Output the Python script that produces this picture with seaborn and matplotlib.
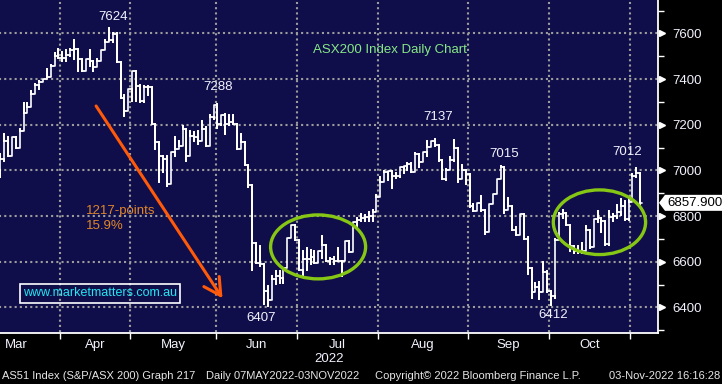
import matplotlib
matplotlib.use("Agg")
import matplotlib.pyplot as plt
import matplotlib.transforms as mtransforms
from matplotlib.patches import Ellipse, Polygon
import seaborn as sns
import pandas as pd

# ---- data (ASX200 daily bars, trading-day index 0 = first bar shown) ----
months = ["Mar", "Apr", "May", "Jun", "Jul", "Aug", "Sep", "Oct"]
month_start = [-7, 16, 34, 56, 77, 98, 121, 142, 163]   # first trading-day index of each month

opens = [
    7000, 7050, 7130, 7062, 7148, 7097, 7172, 7251, 7276, 7334, 7373, 7385, 7399, 7411, 7455, 7500,
    7494, 7493, 7504, 7526, 7533, 7489, 7437, 7489, 7481, 7452, 7481, 7526, 7563, 7570, 7596, 7474, 7319, 7259,
    7355, 7437, 7370, 7305, 7366, 7364, 7203, 7123, 7064, 7050, 6940, 7079, 7093, 7108, 7181, 7064, 7152, 7145, 7130, 7181, 7108, 7235,
    7286, 7205, 7242, 7205, 7210, 7205, 7095, 7125, 7022, 6934, 6682, 6595, 6588, 6472, 6432, 6523, 6537, 6530, 6573, 6703, 6761,
    6696, 6566, 6610, 6610, 6620, 6595, 6646, 6674, 6602, 6610, 6605, 6602, 6602, 6689, 6643, 6773, 6783, 6790, 6795, 6800, 6819,
    6884, 6947, 6991, 6999, 6977, 6977, 7013, 7020, 7028, 6991, 7072, 7035, 7079, 7104, 7130, 7112, 7045, 6963, 7000, 7044, 7100, 6963, 7000,
    6985, 6846, 6824, 6857, 6827, 6729, 6851, 6895, 6963, 7015, 6827, 6846, 6740, 6719, 6807, 6700, 6573, 6466, 6491, 6466, 6554,
    6473, 6451, 6697, 6808, 6815, 6760, 6667, 6645, 6645, 6645, 6740, 6663, 6785, 6793, 6777, 6676, 6798, 6799, 6818, 6845, 6785,
    6863, 6976, 6988,
]
highs = [
    7072, 7159, 7145, 7148, 7148, 7181, 7297, 7294, 7348, 7377, 7392, 7402, 7443, 7460, 7516, 7530,
    7519, 7526, 7533, 7573, 7533, 7489, 7489, 7526, 7481, 7489, 7526, 7570, 7624, 7600, 7600, 7474, 7330, 7355,
    7437, 7437, 7372, 7371, 7368, 7364, 7203, 7123, 7064, 7064, 7079, 7145, 7130, 7196, 7181, 7174, 7166, 7174, 7218, 7188, 7242, 7288,
    7290, 7242, 7245, 7242, 7242, 7205, 7158, 7125, 7022, 6934, 6682, 6667, 6588, 6494, 6537, 6559, 6559, 6573, 6703, 6761, 6761,
    6696, 6646, 6660, 6653, 6646, 6646, 6711, 6674, 6617, 6620, 6660, 6602, 6689, 6689, 6773, 6790, 6807, 6804, 6819, 6826, 6893,
    6972, 6999, 6999, 6999, 6990, 7013, 7020, 7031, 7031, 7074, 7072, 7079, 7130, 7130, 7137, 7112, 7045, 7005, 7059, 7132, 7100, 7022, 7000,
    6985, 6854, 6857, 6890, 6827, 6851, 6898, 6963, 7018, 7015, 6880, 6846, 6751, 6810, 6807, 6707, 6573, 6505, 6510, 6598, 6561,
    6473, 6700, 6815, 6825, 6815, 6760, 6667, 6667, 6682, 6756, 6740, 6785, 6822, 6793, 6777, 6822, 6808, 6849, 6874, 6867, 6880,
    6985, 7012, 6988,
]
lows = [
    6970, 7043, 7062, 7065, 7097, 7097, 7172, 7251, 7276, 7334, 7356, 7385, 7399, 7411, 7455, 7494,
    7481, 7481, 7500, 7489, 7437, 7437, 7437, 7459, 7437, 7452, 7481, 7526, 7560, 7563, 7474, 7319, 7237, 7259,
    7304, 7305, 7301, 7301, 7330, 7203, 7093, 6947, 6991, 6933, 6940, 7064, 7093, 7108, 7042, 7064, 7130, 7115, 7130, 7108, 7108, 7225,
    7185, 7200, 7158, 7200, 7205, 7095, 7095, 7022, 6927, 6566, 6595, 6580, 6414, 6407, 6432, 6501, 6508, 6508, 6573, 6703, 6696,
    6566, 6537, 6566, 6588, 6595, 6595, 6617, 6602, 6588, 6588, 6602, 6537, 6602, 6643, 6643, 6754, 6778, 6778, 6778, 6778, 6819,
    6884, 6947, 6960, 6925, 6968, 6972, 6990, 7000, 6991, 6991, 7016, 7035, 7064, 7104, 7108, 7042, 6962, 6960, 7000, 7040, 6949, 6963, 6941,
    6839, 6824, 6824, 6824, 6722, 6729, 6851, 6895, 6963, 6813, 6827, 6740, 6719, 6719, 6700, 6546, 6441, 6466, 6437, 6466, 6466,
    6412, 6440, 6697, 6793, 6760, 6648, 6640, 6637, 6640, 6645, 6660, 6663, 6775, 6731, 6674, 6674, 6778, 6793, 6805, 6781, 6781,
    6860, 6970, 6855,
]
closes = [
    7050, 7130, 7062, 7148, 7097, 7172, 7251, 7276, 7334, 7373, 7385, 7399, 7411, 7455, 7500, 7494,
    7493, 7504, 7526, 7533, 7489, 7437, 7489, 7481, 7452, 7481, 7526, 7563, 7570, 7596, 7474, 7319, 7259, 7355,
    7437, 7370, 7305, 7366, 7364, 7203, 7123, 7064, 7050, 6940, 7079, 7093, 7108, 7181, 7064, 7152, 7145, 7130, 7181, 7108, 7235, 7286,
    7205, 7242, 7205, 7210, 7205, 7095, 7125, 7022, 6934, 6682, 6595, 6588, 6472, 6432, 6523, 6537, 6530, 6573, 6703, 6761, 6696,
    6566, 6610, 6610, 6620, 6595, 6646, 6674, 6602, 6610, 6605, 6602, 6602, 6689, 6643, 6773, 6783, 6790, 6795, 6800, 6819, 6884,
    6947, 6991, 6999, 6977, 6977, 7013, 7020, 7028, 6991, 7072, 7035, 7079, 7104, 7130, 7112, 7045, 6963, 7000, 7044, 7100, 6963, 7000, 6985,
    6846, 6824, 6857, 6827, 6729, 6851, 6895, 6963, 7015, 6827, 6846, 6740, 6719, 6807, 6700, 6573, 6466, 6491, 6466, 6554, 6473,
    6451, 6697, 6808, 6815, 6760, 6667, 6645, 6645, 6645, 6740, 6663, 6785, 6793, 6777, 6676, 6798, 6799, 6818, 6845, 6785, 6863,
    6976, 6988, 6857.9,
]
last_price = 6857.9

# labelled turning points: (text, day index, price where the label sits)
peak_labels = [("7624", 29.0, 7671), ("7288", 56.1, 7365), ("7137", 112.8, 7233),
               ("7015", 129.9, 7072), ("7012", 161.6, 7079), ("6407", 67.2, 6353),
               ("6412", 142.7, 6367)]

# ---- OHLC bars as one path per day: open tick, high-low stem, close tick ----
rows = []
for d, (o, h, l, c) in enumerate(zip(opens, highs, lows, closes)):
    for x, y in [(d - 0.5, o), (d, o), (d, l), (d, h), (d, c), (d + 0.5, c)]:
        rows.append((d, x, y))
bars = pd.DataFrame(rows, columns=["day", "x", "price"])

sns.set_theme(style="dark")
plt.rcParams["font.family"] = ["Liberation Sans", "DejaVu Sans"]

NAVY = "#100e4a"
WHITE = "#f2f2ff"
GRID = "#9c9c9c"
YMIN, YMAX = 6288, 7746

fig = plt.figure(figsize=(7.22, 3.84), dpi=100, facecolor="black")
ax = fig.add_axes([0, 51 / 384, 658 / 722, 333 / 384])
ax.set_facecolor(NAVY)

# dotted grid at month boundaries and every 200 points
bounds = [s - 0.5 for s in month_start[1:]]
ax.hlines(range(6400, 7601, 200), -1, 171, colors=GRID, linestyles=(0, (1, 1.5)), lw=1.5, zorder=1)
ax.vlines(bounds, 6200, 7800, colors=GRID, linestyles=(0, (1, 1.5)), lw=1.5, zorder=1)

sns.lineplot(data=bars, x="x", y="price", units="day", estimator=None, sort=False,
             color="white", lw=1.2, ax=ax, legend=False, zorder=3)

ax.set_xlim(-0.08, 169.6)
ax.set_ylim(YMIN, YMAX)
ax.set_xlabel("")
ax.set_ylabel("")
ax.grid(False)

for side in ["left", "top"]:
    ax.spines[side].set_visible(False)
for side in ["right", "bottom"]:
    ax.spines[side].set_visible(True)
    ax.spines[side].set_color("white")
    ax.spines[side].set_linewidth(1.3)

# right price axis
ax.yaxis.tick_right()
yt = list(range(6400, 7601, 200))
ax.set_yticks(yt)
ax.set_yticks(range(6300, 7701, 100), minor=True)
ax.tick_params(axis="y", which="major", length=0, pad=10, labelsize=9.5, labelcolor=WHITE)
ax.tick_params(axis="y", which="minor", length=4, width=1, color="white", direction="out", right=True)
tri = mtransforms.blended_transform_factory(ax.transAxes, ax.transData)
ax.plot([1.006] * len(yt), yt, transform=tri, marker=">", ms=5, color="white",
        ls="none", clip_on=False, zorder=5)

# month axis: ticks on boundaries, names centred in the month
centers = [(month_start[i] + month_start[i + 1]) / 2 - 0.5 for i in range(len(months))]
ax.set_xticks(bounds)
ax.set_xticklabels([])
ax.set_xticks(centers, minor=True)
ax.set_xticklabels(months, minor=True)
ax.tick_params(axis="x", which="major", length=4, width=1, color="white", direction="out", bottom=True)
ax.tick_params(axis="x", which="minor", length=0, pad=4, labelsize=9.5, labelcolor=WHITE)
fig.text(329 / 722, 1 - 359 / 384, "2022", color=WHITE, fontsize=9.5, ha="center", va="center")

# annotations
ax.text(100.6, 7527, "ASX200 Index Daily Chart", color="#86e886", fontsize=9.5, ha="center", va="center")
for txt, x, y in peak_labels:
    ax.text(x, y, txt, color=WHITE, fontsize=9.5, ha="center", va="center")

ax.annotate("", xy=(57.3, 6440), xytext=(24.7, 7282),
            arrowprops=dict(arrowstyle="->,head_length=0.55,head_width=0.3", color="#ff5a0a",
                            lw=2.2, mutation_scale=22, shrinkA=0, shrinkB=0), zorder=4)
ax.text(22.1, 6822, "1217-points", color="#e0862a", fontsize=9.5, ha="left", va="center")
ax.text(22.1, 6757, "15.9%", color="#e0862a", fontsize=9.5, ha="left", va="center")

ax.text(5.85, 6461, "www.marketmatters.com.au", color="#22e6f2", fontsize=9, ha="left", va="center",
        bbox=dict(boxstyle="square,pad=0.25", fc="none", ec="white", lw=1.2))

for cx, cy, w, h in [(81.95, 6665, 24.5, 280), (154.5, 6773, 23.8, 283)]:
    ax.add_patch(Ellipse((cx, cy), w, h, fill=False, ec="#86c614", lw=2.4, zorder=4))

# last price tag on the right axis
ty = 1 - (333 * (YMAX - last_price) / (YMAX - YMIN)) / 384
tag = Polygon([(659 / 722, ty), (665 / 722, ty + 8 / 384), (722 / 722, ty + 8 / 384),
               (722 / 722, ty - 8 / 384), (665 / 722, ty - 8 / 384)],
              closed=True, transform=fig.transFigure, fc="white", ec="none")
fig.patches.append(tag)
fig.text(667 / 722, ty, f"{last_price:.3f}", color="black", fontsize=9.5, ha="left", va="center")

# Bloomberg footer
fy = 1 - 376 / 384
fc = "#e6e6e6"
fig.text(2 / 722, fy, "AS51 Index (S&P/ASX 200) Graph 217", color=fc, fontsize=8, va="center")
fig.text(206 / 722, fy, "Daily 07MAY2022-03NOV2022", color=fc, fontsize=8, va="center")
fig.text(375 / 722, fy, "Copyright\u00a9 2022 Bloomberg Finance L.P.", color=fc, fontsize=8, va="center")
fig.text(720 / 722, fy, "03-Nov-2022 16:16:28", color=fc, fontsize=8, va="center", ha="right")

fig.savefig("out.png", dpi=100, facecolor="black")
